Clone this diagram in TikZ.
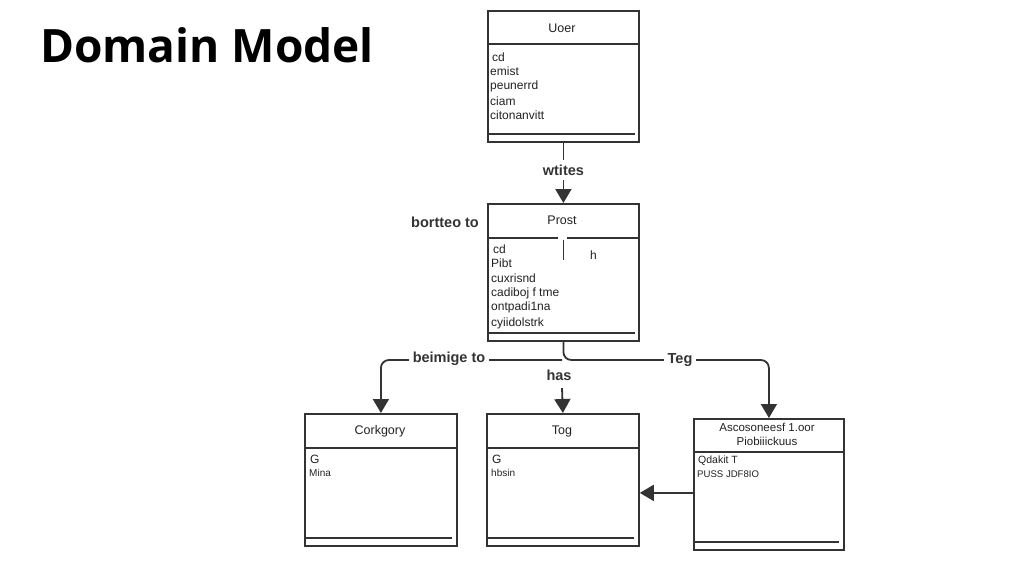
\documentclass[tikz,border=0pt]{standalone}
\usepackage{fontspec}
\setmainfont{Liberation Sans}
\newfontfamily\titlefont{Open Sans}
\usetikzlibrary{arrows.meta,calc}
\definecolor{linec}{HTML}{333333}
\definecolor{txtc}{HTML}{222222}
\begin{document}
\begin{tikzpicture}[x=1pt,y=-1pt,
 box/.style={draw=linec,line width=1.8pt,anchor=north west,inner sep=0pt},
 hdr/.style={font=\fontsize{12.5}{14}\selectfont,text=txtc,inner sep=0pt},
 attr/.style={font=\fontsize{12}{13}\selectfont,text=txtc,anchor=west,inner sep=0pt},
 sattr/.style={font=\fontsize{10}{11}\selectfont,text=txtc,anchor=west,inner sep=0pt},
 lbl/.style={font=\bfseries\fontsize{14.5}{16}\selectfont,text=linec,fill=white,inner xsep=4pt,inner ysep=2pt},
 conn/.style={draw=linec,line width=1.8pt},
 arr/.style={conn,-{Triangle[width=16pt,length=14pt]}},
 rule/.style={draw=linec,line width=1.8pt}]
\useasboundingbox[fill=white] (0,0) rectangle (1024,574);

% title
\node[font=\titlefont\bfseries\fontsize{46}{50}\selectfont,anchor=base west,inner sep=0pt] (title) at (40,62) {Domain Model};

% User
\node[box,minimum width=151pt,minimum height=131pt] (user) at (487,10) {};
\draw[rule] (487,44) -- (638,44);
\draw[rule] (487,134) -- (635,134);
\node[hdr] (userh) at (562,28) {Uoer};
\node[attr] (u1) at (492,57) {cd};
\node[attr] (u2) at (490,71) {emist};
\node[attr] (u3) at (490,86) {peunerrd};
\node[attr] (u4) at (490,101) {ciam};
\node[attr] (u5) at (490,115) {citonanvitt};

% Post
\node[box,minimum width=151pt,minimum height=137pt] (post) at (487,203) {};
\draw[rule] (487,238) -- (558,238);
\draw[rule] (567,238) -- (638,238);
\draw[draw=linec,line width=1pt] (563,240) -- (563,260);
\draw[rule] (487,333) -- (635,333);
\node[hdr] (posth) at (562,220) {Prost};
\node[attr] (ph) at (590,255) {h};
\node[attr] (p1) at (493,249) {cd};
\node[attr] (p2) at (491,263) {Pibt};
\node[attr] (p3) at (491,278) {cuxrisnd};
\node[attr] (p4) at (491,293) {cadiboj f tme};
\node[attr] (p5) at (491,307) {ontpadi1na};
\node[attr] (p6) at (491,323) {cyiidolstrk};
\node[lbl,fill=none] (bort) at (445,222) {bortteo to};

% Category
\node[box,minimum width=152pt,minimum height=132pt] (cat) at (304,413) {};
\draw[rule] (304,448) -- (456,448);
\draw[rule] (304,538) -- (452,538);
\node[hdr] (cath) at (380,431) {Corkgory};
\node[attr] (c1) at (310,459) {G};
\node[sattr] (c2) at (309,473) {Mina};

% Tag
\node[box,minimum width=152pt,minimum height=132pt] (tag) at (486,413) {};
\draw[rule] (486,448) -- (638,448);
\draw[rule] (486,538) -- (634,538);
\node[hdr] (tagh) at (562,431) {Tog};
\node[attr] (t1) at (492,459) {G};
\node[sattr] (t2) at (491,473) {hbsin};

% third box
\node[box,minimum width=150pt,minimum height=131pt] (third) at (693,418) {};
\draw[rule] (693,452) -- (843,452);
\draw[rule] (693,542) -- (839,542);
\node[hdr,font=\fontsize{11.5}{13}\selectfont] (thh1) at (767,427) {Ascosoneesf 1.oor};
\node[hdr,font=\fontsize{11.5}{13}\selectfont] (thh2) at (767,441) {Piobiiickuus};
\node[attr,font=\fontsize{10.5}{12}\selectfont] (th1) at (698,461) {Qdakit T};
\node[attr,font=\fontsize{9.6}{11}\selectfont] (th2) at (697,474) {PUSS JDF8IO};

% connectors
\draw[arr] (user.south) -- node[lbl,pos=0.45,inner ysep=5pt] {wtites} (post.north);
\coordinate (split) at (562,360);
\draw[arr,rounded corners=8pt] (post.south) |- (split -| third.north) -- (third.north);
\node[lbl] (teg) at (680,360) {Teg};
\draw[arr,rounded corners=8pt] (split) -| (cat.north);
\node[lbl] (beim) at (449,359) {beimige to};
\node[lbl,fill=none] (has) at (559,375) {has};
\coordinate (hasstart) at (562,388);
\draw[arr] (hasstart) -- (tag.north);
\draw[arr] ($(third.west)+(0,8.5)$) coordinate (tw) -- (tw -| tag.east);
\end{tikzpicture}
\end{document}
